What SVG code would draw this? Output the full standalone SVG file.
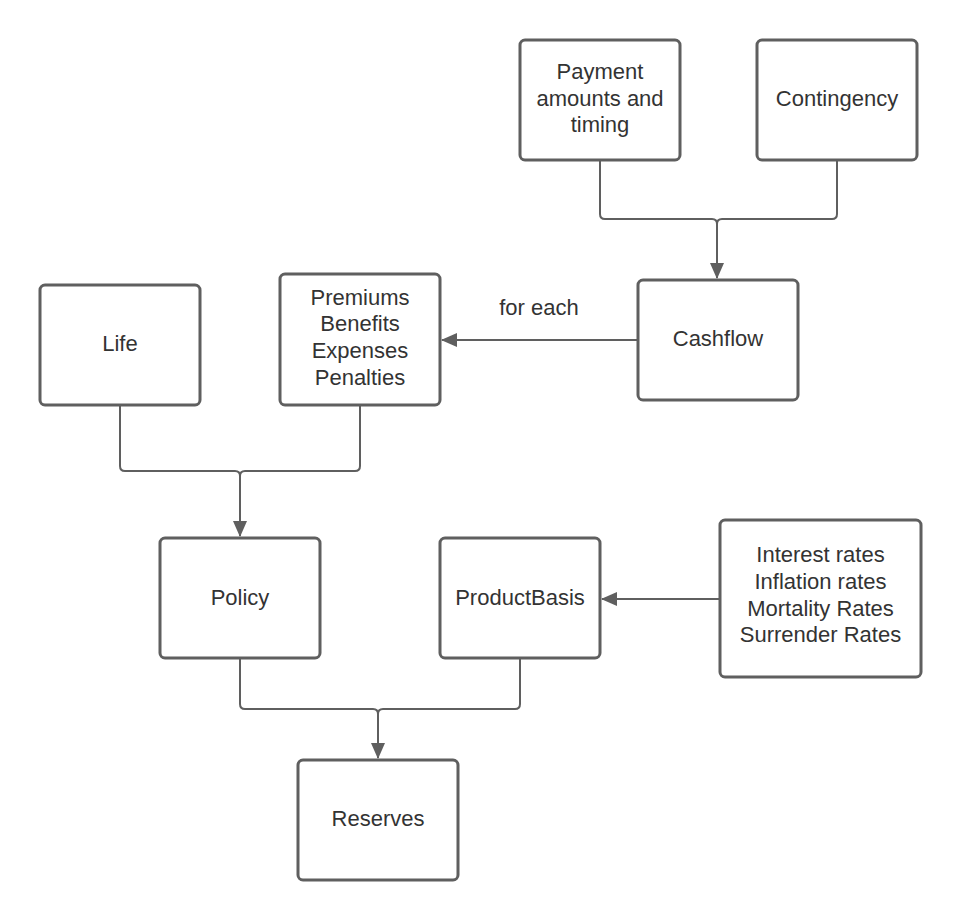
<svg xmlns="http://www.w3.org/2000/svg" width="962" height="920" viewBox="0 0 962 920">
<style>
.box{fill:#fff;stroke:#5f5f5f;stroke-width:3;}
.t{font-family:"Liberation Sans",Arial,sans-serif;font-size:22px;fill:#333;text-anchor:middle;}
.c{fill:none;stroke:#5f5f5f;stroke-width:2;}
</style>
<defs>
<marker id="ah" markerWidth="16" markerHeight="14" refX="15" refY="7" orient="auto" markerUnits="userSpaceOnUse">
<path d="M0,0 L16,7 L0,14 Z" fill="#5f5f5f"/>
</marker>
</defs>
<rect width="962" height="920" fill="#fff"/>
<g id="connectors">
<path class="c" d="M600,160 V214 Q600,219 605,219 H712 Q717,219 717,224 V278" marker-end="url(#ah)"/>
<path class="c" d="M837,160 V214 Q837,219 832,219 H722 Q717,219 717,224"/>
<path class="c" d="M638,340 H442" marker-end="url(#ah)"/>
<path class="c" d="M120,405 V466 Q120,471 125,471 H235 Q240,471 240,476 V536" marker-end="url(#ah)"/>
<path class="c" d="M360,405 V466 Q360,471 355,471 H245 Q240,471 240,476"/>
<path class="c" d="M240,658 V704 Q240,709 245,709 H373 Q378,709 378,714 V758" marker-end="url(#ah)"/>
<path class="c" d="M520,658 V704 Q520,709 515,709 H383 Q378,709 378,714"/>
<path class="c" d="M720,599 H602" marker-end="url(#ah)"/>
<text class="t" x="539" y="315">for each</text>
</g>
<g id="payment"><rect class="box" x="520" y="40" width="160" height="120" rx="5"/>
<text class="t" x="600" y="79">Payment</text><text class="t" x="600" y="106">amounts and</text><text class="t" x="600" y="132">timing</text></g>
<g id="contingency"><rect class="box" x="757" y="40" width="160" height="120" rx="5"/>
<text class="t" x="837" y="106">Contingency</text></g>
<g id="cashflow"><rect class="box" x="638" y="280" width="160" height="120" rx="5"/>
<text class="t" x="718" y="346">Cashflow</text></g>
<g id="premiums"><rect class="box" x="280" y="274" width="160" height="131" rx="5"/>
<text class="t" x="360" y="305">Premiums</text><text class="t" x="360" y="331">Benefits</text><text class="t" x="360" y="358">Expenses</text><text class="t" x="360" y="385">Penalties</text></g>
<g id="life"><rect class="box" x="40" y="285" width="160" height="120" rx="5"/>
<text class="t" x="120" y="351">Life</text></g>
<g id="policy"><rect class="box" x="160" y="538" width="160" height="120" rx="5"/>
<text class="t" x="240" y="605">Policy</text></g>
<g id="productbasis"><rect class="box" x="440" y="538" width="160" height="120" rx="5"/>
<text class="t" x="520" y="605">ProductBasis</text></g>
<g id="rates"><rect class="box" x="720" y="520" width="201" height="157" rx="5"/>
<text class="t" x="820.500" y="562">Interest rates</text><text class="t" x="820.500" y="589">Inflation rates</text><text class="t" x="820.500" y="616">Mortality Rates</text><text class="t" x="820.500" y="642">Surrender Rates</text></g>
<g id="reserves"><rect class="box" x="298" y="760" width="160" height="120" rx="5"/>
<text class="t" x="378" y="826">Reserves</text></g>
</svg>
